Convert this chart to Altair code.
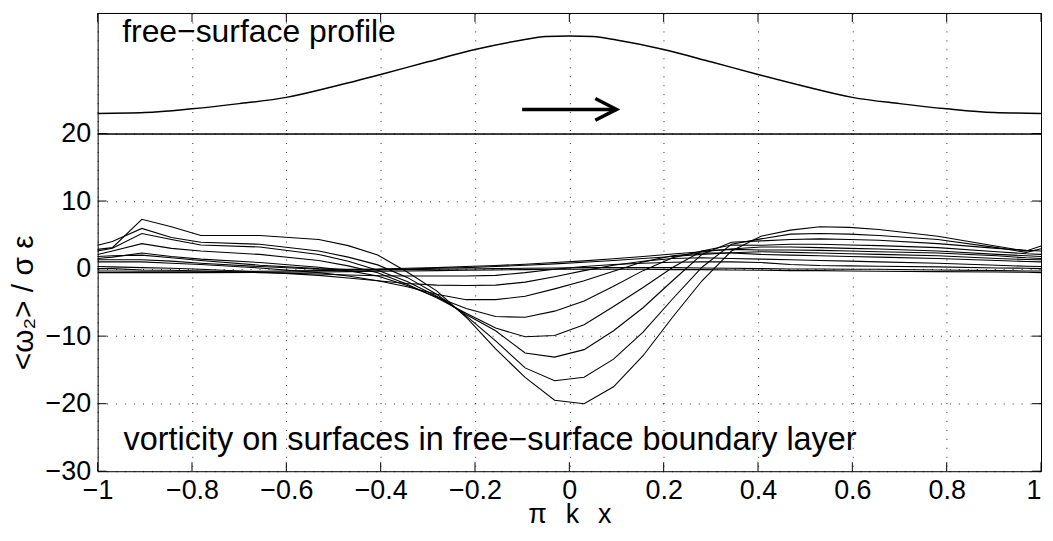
import altair as alt
import pandas as pd

# ---------------- data ----------------
xs = [-1, -0.96875, -0.90625, -0.84375, -0.78125, -0.65625, -0.53125, -0.46875,
      -0.40625, -0.34375, -0.28125, -0.21875, -0.15625, -0.09375, -0.03125,
      0.03125, 0.09375, 0.15625, 0.21875, 0.28125, 0.34375, 0.40625, 0.46875,
      0.53125, 0.59375, 0.65625, 0.78125, 0.90625, 0.96875, 1]

c1 = [2.85, 3.1, 7.3, 6.2, 4.9, 4.9, 4.3, 3.4, 2.0, -0.5, -3.3, -7.2, -11.9, -16.1, -19.5,
      -20.0, -17.5, -12.9, -7.2, -1.8, 2.6, 4.8, 5.7, 6.2, 6.1, 5.8, 4.8, 3.3, 2.6, 3.35]
c2 = [3.45, 4.0, 5.95, 4.6, 3.9, 3.6, 2.6, 1.7, 0.55, -1.3, -3.8, -7.0, -10.7, -14.7, -16.6,
      -16.1, -13.4, -9.4, -4.5, 0.2, 3.6, 4.4, 5.1, 5.2, 5.1, 4.9, 4.3, 3.1, 2.4, 2.95]
c3 = [2.6, 3.0, 5.2, 4.3, 3.5, 3.2, 2.1, 1.1, -0.25, -1.9, -4.1, -6.8, -9.2, -12.5, -13.1,
      -12.0, -9.2, -5.8, -1.8, 2.1, 3.9, 4.1, 4.3, 4.4, 4.3, 4.2, 3.7, 3.0, 2.7, 2.6]
c4 = [2.1, 2.6, 3.7, 3.0, 2.6, 2.1, 1.2, 0.4, -0.6, -2.3, -4.3, -6.6, -8.8, -10.1, -9.9,
      -8.3, -5.6, -2.8, 0.15, 2.6, 3.5, 3.45, 3.6, 3.6, 3.5, 3.4, 3.1, 2.5, 2.2, 2.1]
c5 = [1.5, 1.7, 2.3, 1.8, 1.4, 0.9, 0.2, -0.3, -1.1, -2.5, -4.2, -5.9, -7.1, -7.2, -6.3,
      -4.8, -2.6, -0.3, 1.6, 2.6, 2.85, 2.75, 2.75, 2.7, 2.6, 2.5, 2.3, 1.9, 1.6, 1.5]
c6 = [1.0, 1.0, 1.0, 0.8, 0.6, 0.1, -0.6, -1.1, -1.8, -2.7, -3.8, -4.6, -4.6, -4.1, -3.0,
      -1.8, -0.4, 1.0, 1.9, 2.3, 2.3, 2.1, 2.0, 1.9, 1.8, 1.7, 1.5, 1.2, 1.05, 1.0]
c7 = [0.3, 0.25, 0.15, 0.05, -0.1, -0.5, -1.0, -1.4, -1.8, -2.2, -2.45, -2.5, -2.45, -2.0, -1.2,
      -0.3, 0.5, 1.1, 1.5, 1.6, 1.5, 1.4, 1.3, 1.2, 1.1, 1.0, 0.8, 0.5, 0.35, 0.3]
c8 = [0.0, 0.0, -0.2, -0.25, -0.35, -0.6, -0.8, -0.95, -1.05, -1.1, -1.1, -1.1, -1.0, -0.6, -0.1,
      0.3, 0.6, 0.8, 0.95, 1.0, 1.0, 0.9, 0.6, 0.45, 0.4, 0.35, 0.25, 0.1, 0.05, 0.0]
c9 = [1.8, 1.9, 2.0, 1.6, 1.2, 0.5, 0.0, -0.1, -0.05, 0.05, 0.15, 0.3, 0.45, 0.65, 0.9,
      1.15, 1.45, 1.8, 2.15, 2.5, 2.9, 3.2, 3.2, 3.1, 3.0, 2.9, 2.6, 2.1, 1.9, 1.8]
c10 = [1.3, 1.3, 1.3, 1.1, 0.8, 0.3, -0.1, -0.15, -0.15, -0.05, 0.05, 0.15, 0.3, 0.5, 0.7,
       0.95, 1.2, 1.5, 1.8, 2.1, 2.35, 2.5, 2.4, 2.3, 2.2, 2.1, 1.9, 1.5, 1.35, 1.3]
c11 = [-0.35, -0.35, -0.4, -0.4, -0.4, -0.4, -0.3, -0.25, -0.2, -0.15, -0.1, -0.05, 0.0, 0.05, 0.1,
       0.15, 0.15, 0.15, 0.15, 0.1, 0.05, 0.0, -0.05, -0.05, -0.1, -0.1, -0.2, -0.3, -0.35, -0.35]
c12 = [-0.6, -0.6, -0.6, -0.6, -0.6, -0.55, -0.5, -0.45, -0.4, -0.35, -0.3, -0.25, -0.2, -0.15, -0.1,
       -0.1, -0.1, -0.1, -0.15, -0.15, -0.2, -0.25, -0.3, -0.3, -0.35, -0.4, -0.45, -0.5, -0.55, -0.6]

curves = [c1, c2, c3, c4, c5, c6, c7, c8, c9, c10, c11, c12]

prof_x = [-1, -0.9, -0.8, -0.7, -0.6, -0.5, -0.4, -0.3, -0.2, -0.1, -0.05, 0,
          0.05, 0.1, 0.2, 0.3, 0.4, 0.5, 0.6, 0.7, 0.8, 0.9, 1]
prof_y = [0.167, 0.174, 0.205, 0.248, 0.300, 0.390, 0.490, 0.595, 0.697, 0.775, 0.804, 0.810,
          0.804, 0.775, 0.697, 0.595, 0.490, 0.390, 0.300, 0.248, 0.205, 0.174, 0.167]

arrow_x = [-0.1, 0.1, 0.055, 0.1, 0.055]
arrow_y = [0.2, 0.2, 0.29, 0.2, 0.11]
arrow_seg = [0, 0, 1, 1, 1]

x_ticks = [-1, -0.8, -0.6, -0.4, -0.2, 0, 0.2, 0.4, 0.6, 0.8, 1]
y_ticks = [-30, -20, -10, 0, 10, 20]

top_label = "free−surface profile"
bot_label = "vorticity on surfaces in free−surface boundary layer"
x_title = "π\u2002\u2009k\u2002\u2009x"
y_title = "<ω₂> / σ ε"

# ---------------- tables ----------------
rows = []
for ci, cv in enumerate(curves):
    assert len(cv) == len(xs)
    for x, v in zip(xs, cv):
        rows.append({"x": x, "v": v, "curve": ci})
curve_df = pd.DataFrame(rows)
prof_df = pd.DataFrame({"x": prof_x, "y": prof_y})
arrow_df = pd.DataFrame({"x": arrow_x, "y": arrow_y, "seg": arrow_seg,
                         "ord": list(range(len(arrow_x)))})
xt_df = pd.DataFrame({"x": x_ticks})
yt_df = pd.DataFrame({"v": y_ticks})

FONT = "Liberation Sans"
W, H_TOP, H_BOT = 947, 121, 339
TICK = 9

xscale = alt.Scale(domain=[-1, 1], nice=False, zero=False)
grid_kw = dict(grid=True, gridColor="black", gridDash=[1, 8], gridWidth=1, gridOpacity=0.85,
               ticks=False, tickSize=0, domain=False, labelFlush=False, labelOverlap=False)

# ---------------- top panel ----------------
top_x = alt.X("x:Q", scale=xscale,
              axis=alt.Axis(values=x_ticks, labels=False, title=None, **grid_kw))
top_y = alt.Y("y:Q", scale=alt.Scale(domain=[0, 1], nice=False, zero=False), axis=None)

profile = alt.Chart(prof_df).mark_line(color="black", strokeWidth=1.5,
                                       interpolate="monotone").encode(x=top_x, y=top_y)
arrow = alt.Chart(arrow_df).mark_line(color="black", strokeWidth=3.5).encode(
    x="x:Q", y="y:Q", detail="seg:N", order="ord:Q")
top_text = alt.Chart(pd.DataFrame({"x": [-0.948], "y": [0.76], "t": [top_label]})).mark_text(
    align="left", baseline="alphabetic", fontSize=32, font=FONT, color="black"
).encode(x="x:Q", y="y:Q", text="t:N")
top_ticks = alt.Chart(xt_df).mark_rule(color="black").encode(
    x="x:Q", y=alt.value(0), y2=alt.value(TICK))

top = alt.layer(profile, arrow, top_text, top_ticks).properties(width=W, height=H_TOP)

# ---------------- bottom panel ----------------
bot_x = alt.X("x:Q", scale=xscale,
              axis=alt.Axis(values=x_ticks, format=".1~f", title=x_title,
                            labelAlign={"expr": "datum.value >= 1 ? 'right' : 'center'"},
                            labelPadding=6, titlePadding=-2, titleFontSize=27, **grid_kw))
bot_y = alt.Y("v:Q", scale=alt.Scale(domain=[-30, 20], nice=False, zero=False),
              axis=alt.Axis(values=y_ticks, format="d", title=y_title,
                            labelPadding=7, titlePadding=3, titleFontSize=30,
                            minExtent=56, maxExtent=56, **grid_kw))

lines = alt.Chart(curve_df).mark_line(color="black", strokeWidth=1.1).encode(
    x=bot_x, y=bot_y, detail="curve:N")
bot_text = alt.Chart(pd.DataFrame({"x": [-0.945], "v": [-26.8], "t": [bot_label]})).mark_text(
    align="left", baseline="alphabetic", fontSize=32.5, font=FONT, color="black"
).encode(x="x:Q", y="v:Q", text="t:N")
xt_bottom = alt.Chart(xt_df).mark_rule(color="black").encode(
    x="x:Q", y=alt.value(H_BOT - TICK), y2=alt.value(H_BOT))
yt_left = alt.Chart(yt_df).mark_rule(color="black").encode(
    y="v:Q", x=alt.value(0), x2=alt.value(TICK))
yt_right = alt.Chart(yt_df).mark_rule(color="black").encode(
    y="v:Q", x=alt.value(W - TICK), x2=alt.value(W))

bottom = alt.layer(lines, bot_text, xt_bottom, yt_left, yt_right).properties(width=W, height=H_BOT)

chart = alt.vconcat(top, bottom, spacing=0, bounds="flush").properties(
    padding={"left": 0, "top": 3, "right": 0, "bottom": 0},
).configure_view(stroke="black", strokeWidth=1).configure_axis(
    labelFont=FONT, titleFont=FONT, labelFontSize=27,
    labelColor="black", titleColor="black", titleFontWeight="normal"
).configure_text(font=FONT)

chart.save("out.html", embed_options={"renderer": "svg", "actions": False})
